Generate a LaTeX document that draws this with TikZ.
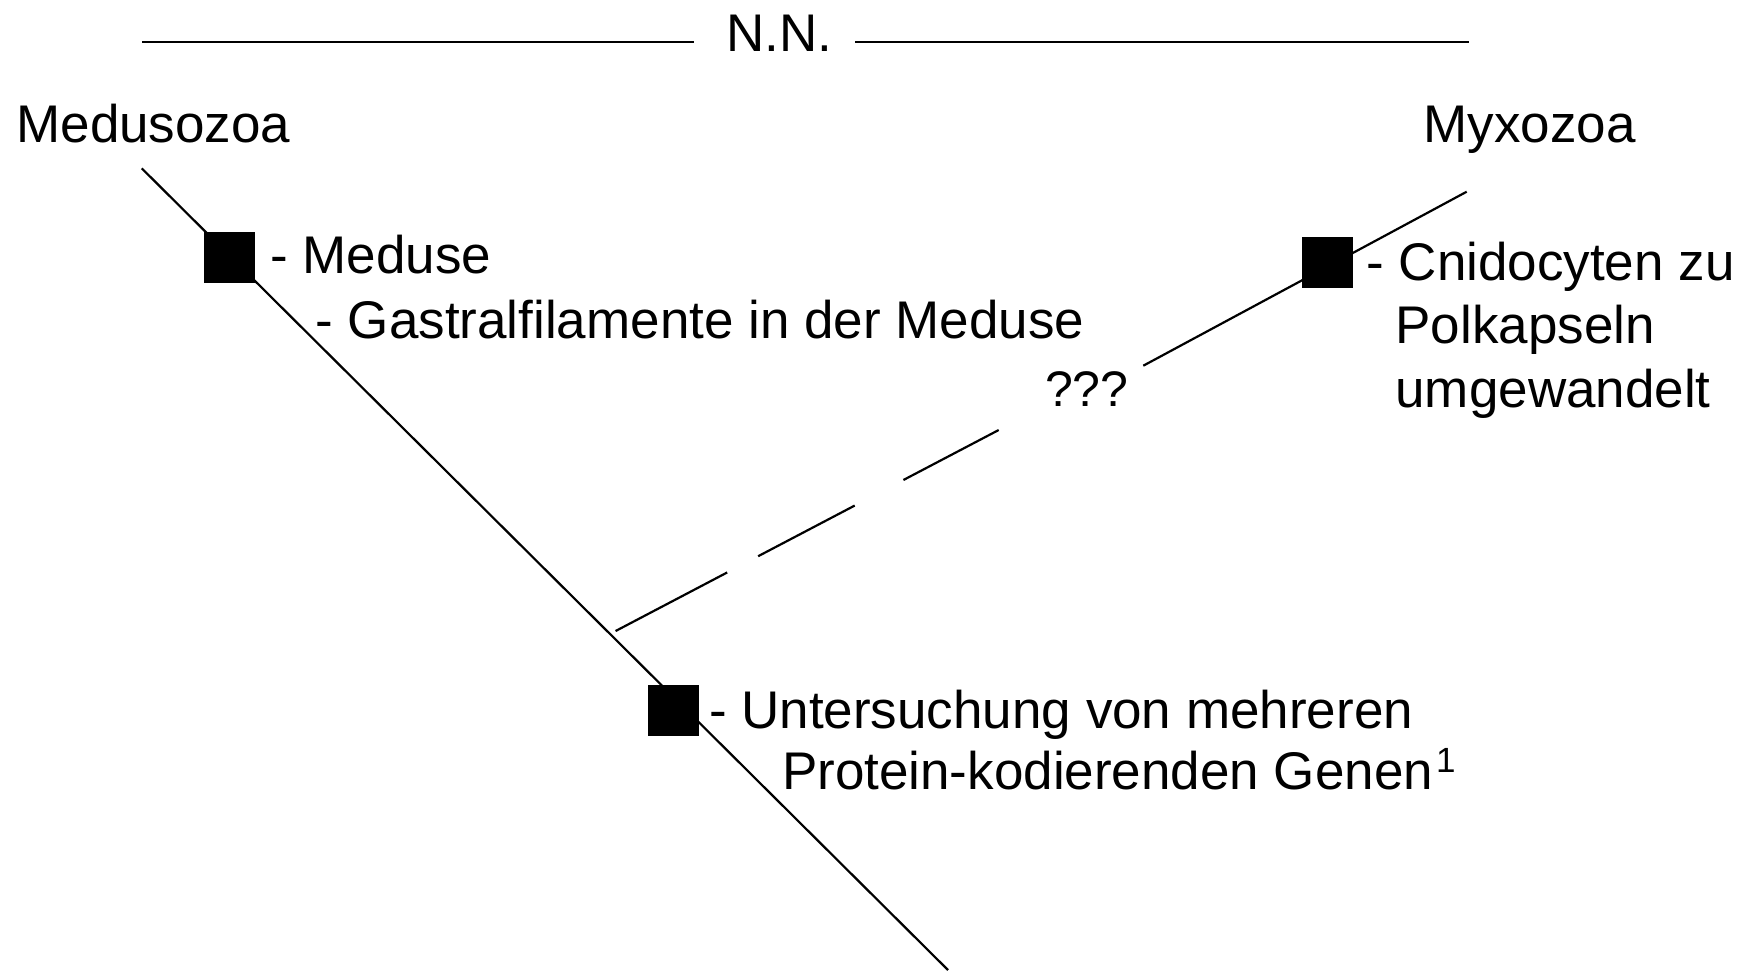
\documentclass[tikz,border=0pt]{standalone}
\usepackage{fontspec}
\setmainfont{Liberation Sans}
\begin{document}
\begin{tikzpicture}[x=1pt,y=-1pt,
  lbl/.style={anchor=base west,inner sep=0pt,outer sep=0pt,font=\fontsize{53}{60}\selectfont},
  qlbl/.style={anchor=base west,inner sep=0pt,outer sep=0pt,font=\fontsize{50}{58}\selectfont},
  branch/.style={line width=2.2pt},
  rule/.style={line width=2.8pt},
  apomorphy/.style={rectangle,fill=black,minimum width=51pt,minimum height=51pt,inner sep=0pt}]
\useasboundingbox (0,0) rectangle (1744,970);

% clade name of the common node with its rules
\node[lbl] (nn) at (726.5,51) {N.N.};
\coordinate (ruleL1) at (142,42);
\coordinate (ruleL2) at (694,42);
\coordinate (ruleR1) at (855,42);
\coordinate (ruleR2) at (1469,42);
\draw[rule] (ruleL1) -- (ruleL2);
\draw[rule] (ruleR1) -- (ruleR2);

% taxon names
\node[lbl] (medusozoa) at (16.4,142.7) {Medusozoa};
\node[lbl] (myxozoa) at (1423.4,142.7) {Myxozoa};

% Medusozoa branch
\coordinate (ltop) at (141.7,168.3);
\coordinate (lbot) at (948,970);
\draw[branch] (ltop) -- (lbot);

% Myxozoa branch, solid part and uncertain (dashed) part
\coordinate (mtop) at (1466.7,191.7);
\coordinate (mlow) at (1143.3,365.7);
\draw[branch] (mtop) -- (mlow);
\coordinate (dlow) at (615.6,631);
\coordinate (dhigh) at (998.7,430);
\draw[branch,dash pattern=on 126pt off 35pt on 109pt off 55pt on 108pt off 200pt] (dlow) -- (dhigh);
\node[qlbl] (unsure) at (1045,406) {???};

% apomorphies
\node[apomorphy] (sq1) at (229.3,257.5) {};
\node[apomorphy] (sq2) at (673,710.5) {};
\node[apomorphy] (sq3) at (1327.2,262.8) {};

\node[lbl] (t1a) at (270.5,273.6) {- Meduse};
\node[lbl] (t1b) at (315.5,338) {- Gastralfilamente in der Meduse};

\node[lbl] (t2a) at (709,728.5) {- Untersuchung von mehreren};
\node[lbl] (t2b) at (782,789) {Protein-kodierenden Genen\kern3pt\raisebox{17pt}{\fontsize{35}{35}\selectfont 1}};

\node[lbl] (t3a) at (1366.4,280) {- Cnidocyten zu};
\node[lbl] (t3b) at (1395.5,343.5) {Polkapseln};
\node[lbl] (t3c) at (1395.5,407) {umgewandelt};
\end{tikzpicture}
\end{document}
